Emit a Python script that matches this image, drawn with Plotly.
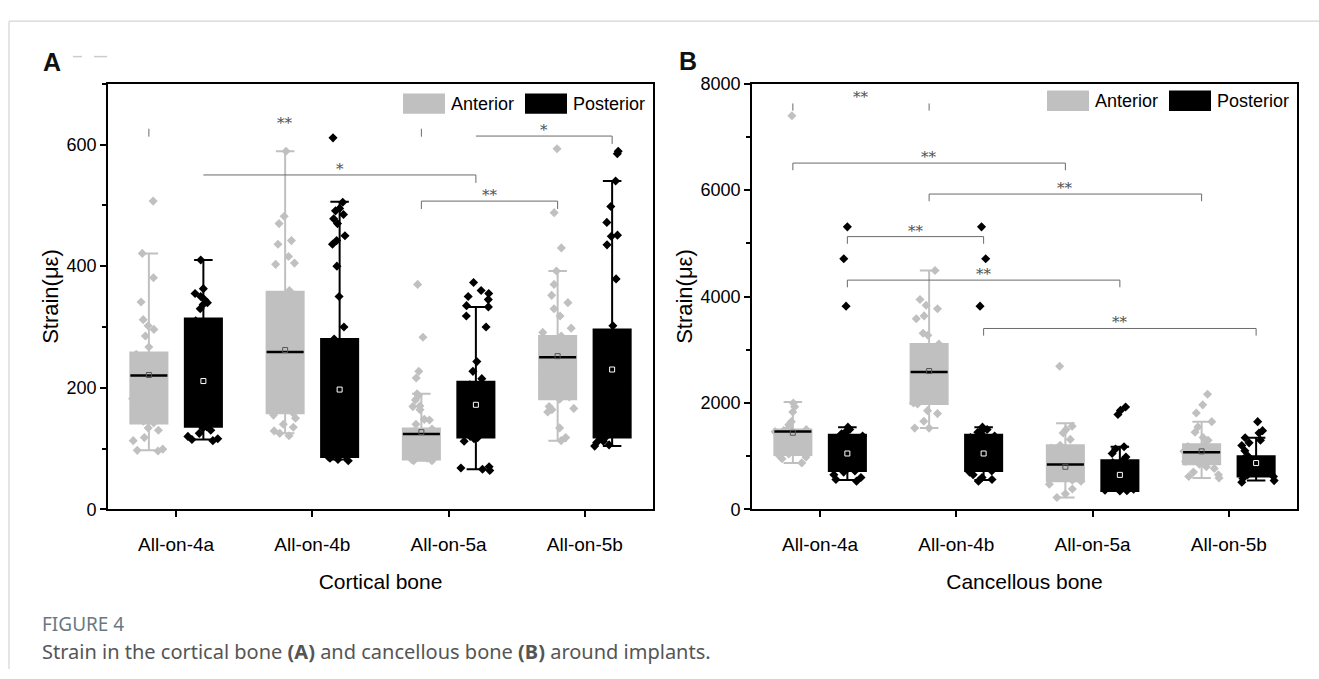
import plotly.graph_objects as go
from plotly.subplots import make_subplots

W, H = 1319, 679

categories = ["All-on-4a", "All-on-4b", "All-on-5a", "All-on-5b"]
series_names = ["Anterior", "Posterior"]

# ---------------- Panel A : cortical bone (strain, micro-epsilon) ----------------
cort_ant_q1 = [141, 158, 82, 181]
cort_ant_median = [220, 259, 124, 250]
cort_ant_q3 = [258, 358, 133, 285]
cort_ant_low = [97, 125, 80, 113]
cort_ant_high = [421, 589, 190, 392]
cort_ant_mean = [221, 262, 127, 252]
cort_ant_points = [
    [507, 421, 381, 341, 312, 302, 296, 285, 267, 255, 248, 240, 232, 225, 220, 215, 205,
     198, 190, 182, 175, 168, 160, 152, 145, 142, 134, 130, 118, 113, 99, 97, 96],
    [589, 482, 470, 442, 436, 416, 405, 403, 360, 340, 320, 300, 280, 260, 240, 220, 200,
     180, 165, 158, 155, 150, 140, 135, 129, 125, 121],
    [370, 283, 227, 216, 190, 187, 180, 170, 169, 164, 148, 147, 140, 132, 128, 124, 120,
     115, 110, 105, 100, 95, 90, 86, 84, 82, 80, 80],
    [593, 488, 430, 392, 370, 352, 340, 330, 318, 298, 291, 285, 275, 265, 255, 245, 235,
     225, 215, 205, 195, 185, 181, 169, 166, 164, 160, 134, 118, 113],
]

cort_post_q1 = [136, 86, 118, 118]
cort_post_median = [200, 180, 160, 200]
cort_post_q3 = [314, 280, 210, 296]
cort_post_low = [115, 82, 66, 104]
cort_post_high = [410, 506, 333, 540]
cort_post_mean = [211, 197, 172, 230]
cort_post_points = [
    [410, 363, 355, 350, 345, 340, 337, 330, 310, 290, 270, 250, 230, 210, 190, 170, 150,
     140, 136, 134, 130, 125, 120, 116, 115, 113],
    [611, 505, 495, 491, 485, 478, 470, 450, 442, 436, 400, 350, 300, 280, 250, 220, 200,
     180, 150, 120, 100, 90, 88, 86, 84, 82, 80],
    [373, 360, 355, 350, 345, 335, 333, 318, 300, 243, 227, 215, 205, 190, 175, 160, 145,
     130, 120, 118, 116, 112, 70, 68, 66, 64],
    [589, 585, 540, 498, 472, 451, 449, 435, 379, 302, 280, 260, 240, 220, 200, 180, 160,
     140, 125, 120, 118, 116, 112, 110, 106, 104],
]

# ---------------- Panel B : cancellous bone ----------------
canc_ant_q1 = [1020, 1982, 527, 848]
canc_ant_median = [1465, 2582, 842, 1073]
canc_ant_q3 = [1500, 3109, 1206, 1224]
canc_ant_low = [873, 1527, 224, 588]
canc_ant_high = [2018, 4490, 1618, 1648]
canc_ant_mean = [1440, 2600, 800, 1090]
canc_ant_points = [
    [7400, 2000, 1927, 1830, 1648, 1588, 1540, 1500, 1480, 1460, 1440, 1400, 1350, 1300,
     1250, 1200, 1150, 1100, 1042, 1020, 982, 950, 873],
    [4490, 3945, 3836, 3770, 3636, 3582, 3309, 3273, 3109, 3000, 2900, 2800, 2700, 2600,
     2500, 2400, 2300, 2200, 2100, 2000, 1982, 1855, 1800, 1655, 1527, 1527],
    [2691, 1564, 1500, 1436, 1315, 1206, 1150, 1100, 1000, 950, 900, 842, 800, 750, 700,
     650, 600, 550, 527, 473, 382, 291, 224],
    [2164, 1964, 1812, 1648, 1550, 1450, 1350, 1300, 1224, 1180, 1150, 1120, 1090, 1073,
     1050, 1000, 950, 900, 848, 800, 770, 700, 650, 618, 588],
]

canc_post_q1 = [720, 720, 345, 618]
canc_post_median = [1200, 1200, 600, 870]
canc_post_q3 = [1400, 1400, 921, 1000]
canc_post_low = [550, 550, 345, 540]
canc_post_high = [1545, 1545, 1176, 1345]
canc_post_mean = [1050, 1050, 648, 870]
canc_post_points = [
    [5310, 4710, 3820, 1545, 1500, 1480, 1450, 1420, 1400, 1380, 1350, 1300, 1250, 1200,
     1100, 1000, 900, 800, 750, 720, 700, 650, 600, 560, 530],
    [5310, 4710, 3820, 1545, 1500, 1480, 1450, 1420, 1400, 1380, 1350, 1300, 1250, 1200,
     1100, 1000, 900, 800, 750, 720, 700, 650, 600, 560, 530],
    [1923, 1860, 1782, 1176, 1135, 1050, 982, 921, 880, 820, 760, 700, 640, 580, 520, 460,
     400, 380, 360, 350, 345],
    [1648, 1479, 1436, 1345, 1300, 1250, 1200, 1100, 1000, 950, 900, 850, 800, 750, 700,
     650, 618, 580, 540, 509],
]

# significance brackets: (cat1, series1, cat2, series2, y, label, left drop, right drop, top line)
cort_brackets = [
    (0, 0, 2, 0, 626, "**", True, True, False),
    (0, 1, 2, 1, 550, "*", False, True, True),
    (2, 0, 3, 0, 507, "**", True, True, True),
    (2, 1, 3, 1, 614, "*", False, True, True),
]
canc_brackets = [
    (0, 0, 1, 0, 7630, "**", True, True, False),
    (0, 0, 2, 0, 6509, "**", True, True, True),
    (1, 0, 3, 0, 5927, "**", True, True, True),
    (0, 1, 1, 1, 5127, "**", True, True, True),
    (0, 1, 2, 1, 4309, "**", True, True, True),
    (1, 1, 3, 1, 3400, "**", True, True, True),
]

# ---------------- styling ----------------
GRAY = "#c0c0c0"
BLACK = "#000000"
FONT = "Liberation Sans, Arial, sans-serif"

PLOT_TOP, PLOT_BOT = 76, 514.5
A_X0, A_X1 = 108, 653
B_X0, B_X1 = 752, 1297


def pxx(x):
    return x / W


def pxy(y):
    return 1 - y / H


fig = make_subplots(rows=1, cols=2)


def add_series(col, q1, med, q3, lo, hi, mean, points, color, median_color, mean_color, group):
    common = dict(offsetgroup=group, alignmentgroup="g", showlegend=False, hoverinfo="skip")
    # box + whiskers
    fig.add_trace(go.Box(x=categories, q1=q1, median=med, q3=q3, lowerfence=lo, upperfence=hi,
                         fillcolor=color, line=dict(color=color, width=2), whiskerwidth=0.5,
                         boxpoints=False, **common), row=1, col=col)
    # jittered raw points
    xs = [c for c, pts in zip(categories, points) for _ in pts]
    ys = [v for pts in points for v in pts]
    fig.add_trace(go.Box(x=xs, y=ys, boxpoints="all", jitter=1.0, pointpos=0,
                         fillcolor="rgba(0,0,0,0)", line=dict(color="rgba(0,0,0,0)", width=0),
                         whiskerwidth=0,
                         marker=dict(symbol="diamond", size=7, color=color), **common),
                  row=1, col=col)
    # median line
    fig.add_trace(go.Box(x=categories, q1=med, median=med, q3=med, lowerfence=med, upperfence=med,
                         fillcolor="rgba(0,0,0,0)", line=dict(color=median_color, width=2.5),
                         whiskerwidth=0, boxpoints=False, **common), row=1, col=col)
    # mean square
    fig.add_trace(go.Box(x=categories, y=mean, boxpoints="all", jitter=0, pointpos=0,
                         fillcolor="rgba(0,0,0,0)", line=dict(color="rgba(0,0,0,0)", width=0),
                         whiskerwidth=0,
                         marker=dict(symbol="square-open", size=5, color=mean_color,
                                     line=dict(width=1, color=mean_color)), **common),
                  row=1, col=col)


add_series(1, cort_ant_q1, cort_ant_median, cort_ant_q3, cort_ant_low, cort_ant_high,
           cort_ant_mean, cort_ant_points, GRAY, BLACK, "#555555", "ant")
add_series(1, cort_post_q1, cort_post_median, cort_post_q3, cort_post_low, cort_post_high,
           cort_post_mean, cort_post_points, BLACK, BLACK, "#ffffff", "post")
add_series(2, canc_ant_q1, canc_ant_median, canc_ant_q3, canc_ant_low, canc_ant_high,
           canc_ant_mean, canc_ant_points, GRAY, BLACK, "#555555", "ant")
add_series(2, canc_post_q1, canc_post_median, canc_post_q3, canc_post_low, canc_post_high,
           canc_post_mean, canc_post_points, BLACK, BLACK, "#ffffff", "post")

axis_common = dict(showline=True, mirror=True, linecolor="black", linewidth=1.8,
                   ticks="outside", ticklen=6, tickwidth=1.5, tickcolor="black",
                   showgrid=False, zeroline=False)

fig.update_xaxes(type="category", range=[-0.5, 3.5], tickfont=dict(family=FONT, size=19, color="black"),
                 ticklabelstandoff=11, title_standoff=20,
                 title_font=dict(family=FONT, size=21, color="black"), **axis_common)
fig.update_xaxes(domain=[pxx(A_X0), pxx(A_X1)], title_text="Cortical bone", row=1, col=1)
fig.update_xaxes(domain=[pxx(B_X0), pxx(B_X1)], title_text="Cancellous bone", row=1, col=2)

fig.update_yaxes(domain=[pxy(PLOT_BOT), pxy(PLOT_TOP)], tickfont=dict(family=FONT, size=18, color="black"),
                 title_text="Strain(με)", title_font=dict(family=FONT, size=22, color="black"),
                 title_standoff=2, **axis_common)
fig.update_yaxes(range=[0, 700], dtick=200,
                 minor=dict(dtick=100, ticklen=4, tickwidth=1.5, tickcolor="black", ticks="outside"),
                 row=1, col=1)
fig.update_yaxes(range=[0, 8000], dtick=2000,
                 minor=dict(dtick=1000, ticklen=4, tickwidth=1.5, tickcolor="black", ticks="outside"),
                 row=1, col=2)

shapes = []
annotations = []

# brackets
OFFSET = 0.2  # box offset from the category centre (boxgap 0.2 in group mode)


def add_brackets(brackets, xref, yref, drop, label_size):
    for c1, s1, c2, s2, y, label, dl, dr, top in brackets:
        x1 = c1 + (OFFSET if s1 else -OFFSET)
        x2 = c2 + (OFFSET if s2 else -OFFSET)
        line = dict(color="#6a6a6a", width=1)
        if top:
            shapes.append(dict(type="line", xref=xref, yref=yref, x0=x1, x1=x2, y0=y, y1=y, line=line))
        if dl:
            shapes.append(dict(type="line", xref=xref, yref=yref, x0=x1, x1=x1, y0=y, y1=y - drop, line=line))
        if dr:
            shapes.append(dict(type="line", xref=xref, yref=yref, x0=x2, x1=x2, y0=y, y1=y - drop, line=line))
        annotations.append(dict(x=(x1 + x2) / 2, y=y, xref=xref, yref=yref, text=label,
                                showarrow=False, xanchor="center", yanchor="middle", yshift=6,
                                font=dict(family="DejaVu Serif, serif", size=label_size, color="#505050")))


add_brackets(cort_brackets, "x", "y", 13, 15)
add_brackets(canc_brackets, "x2", "y2", 135, 15)

# legends drawn as swatches + text
for x0, ytop in ((403, 86), (1047, 83)):
    shapes.append(dict(type="rect", xref="paper", yref="paper", x0=pxx(x0), x1=pxx(x0 + 42),
                       y0=pxy(ytop + 21), y1=pxy(ytop), fillcolor=GRAY, line=dict(width=0)))
    annotations.append(dict(x=pxx(x0 + 46), y=pxy(ytop + 10.5), xref="paper", yref="paper",
                            text=series_names[0], showarrow=False, xanchor="left", yanchor="middle",
                            font=dict(family=FONT, size=18, color="black")))
    shapes.append(dict(type="rect", xref="paper", yref="paper", x0=pxx(x0 + 122), x1=pxx(x0 + 164),
                       y0=pxy(ytop + 21), y1=pxy(ytop), fillcolor=BLACK, line=dict(width=0)))
    annotations.append(dict(x=pxx(x0 + 168), y=pxy(ytop + 10.5), xref="paper", yref="paper",
                            text=series_names[1], showarrow=False, xanchor="left", yanchor="middle",
                            font=dict(family=FONT, size=18, color="black")))

# panel letters
annotations.append(dict(x=pxx(52), y=pxy(54), xref="paper", yref="paper", text="<b>A</b>",
                        showarrow=False, xanchor="center", yanchor="middle",
                        font=dict(family=FONT, size=25, color="#111111")))
annotations.append(dict(x=pxx(688), y=pxy(53), xref="paper", yref="paper", text="<b>B</b>",
                        showarrow=False, xanchor="center", yanchor="middle",
                        font=dict(family=FONT, size=25, color="#111111")))
for a, b in ((73, 82), (94, 107)):
    shapes.append(dict(type="line", xref="paper", yref="paper", x0=pxx(a), x1=pxx(b),
                       y0=pxy(48), y1=pxy(48), line=dict(color="#cccccc", width=1.5)))

# page frame
shapes.append(dict(type="line", xref="paper", yref="paper", x0=pxx(9), x1=1, y0=pxy(11.5), y1=pxy(11.5),
                   line=dict(color="#d4d4d4", width=1.2)))
shapes.append(dict(type="line", xref="paper", yref="paper", x0=pxx(9), x1=pxx(9), y0=0, y1=pxy(11.5),
                   line=dict(color="#d4d4d4", width=1.2)))

# caption
annotations.append(dict(x=pxx(40), y=pxy(633), xref="paper", yref="paper", text="FIGURE 4",
                        showarrow=False, xanchor="left", yanchor="middle",
                        font=dict(family="Noto Sans, sans-serif", size=19, color="#687884")))
annotations.append(dict(x=pxx(40), y=pxy(661), xref="paper", yref="paper",
                        text="Strain in the cortical bone <b>(A)</b> and cancellous bone <b>(B)</b> around implants.",
                        showarrow=False, xanchor="left", yanchor="middle",
                        font=dict(family="Noto Sans, sans-serif", size=20, color="#555555")))

fig.update_layout(width=W, height=H, margin=dict(l=0, r=0, t=0, b=0), autosize=False,
                  paper_bgcolor="white", plot_bgcolor="white",
                  boxmode="group", boxgap=0.2, boxgroupgap=0.32,
                  showlegend=False, shapes=shapes, annotations=annotations)

fig.write_html("out.html")
